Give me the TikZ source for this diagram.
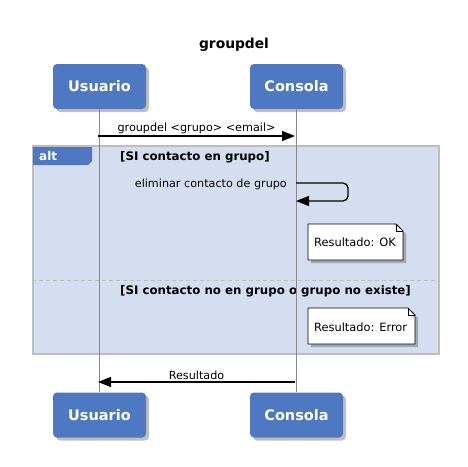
\documentclass[tikz,border=0pt]{standalone}
\usepackage{fontspec}
\setmainfont{DejaVu Sans}
\usetikzlibrary{shadows,arrows.meta,calc}
\definecolor{actorblue}{HTML}{4F78C2}
\definecolor{framefill}{HTML}{D5DEF0}
\definecolor{framedraw}{HTML}{BDBDBD}
\definecolor{lifegray}{HTML}{8A8A8A}
\begin{document}
\begin{tikzpicture}[x=1pt,y=-1pt,
  actor/.style={fill=actorblue, rounded corners=4pt, minimum width=93pt, minimum height=45pt,
    inner sep=0pt, text=white, font=\bfseries\fontsize{14.5}{18}\selectfont,
    drop shadow={shadow xshift=3pt, shadow yshift=-3pt, opacity=0.25, fill=black}},
  lifeline/.style={draw=lifegray, line width=1.8pt},
  msg/.style={line width=1.3pt, -{Triangle[length=13pt,width=10pt]}},
  lbl/.style={font=\fontsize{11.2}{13}\selectfont, inner sep=1pt},
  guard/.style={font=\bfseries\fontsize{11.8}{13}\selectfont, anchor=west, inner sep=0pt},
  notetext/.style={font=\fontsize{11.4}{13}\selectfont, anchor=west, inner sep=0pt},
  notebox/.style={draw=black, fill=white, line width=0.8pt,
    drop shadow={shadow xshift=3pt, shadow yshift=-3pt, opacity=0.25, fill=black}},
]
\useasboundingbox (0,0) rectangle (468,466);
% title
\node[font=\bfseries\fontsize{13.8}{16}\selectfont] (title) at (234,45) {groupdel};
% actors
\node[actor] (u1) at (99.5,86.5) {Usuario};
\node[actor] (c1) at (296.5,86.5) {Consola};
\node[actor] (u2) at (99.5,415) {Usuario};
\node[actor] (c2) at (296.5,415) {Consola};
% alt frame
\node[draw=framedraw, fill=framefill, line width=1.8pt, minimum width=406pt, minimum height=208pt, inner sep=0pt] (alt) at (236,250) {};
\fill[actorblue] (33,147) -- (92,147) -- (92,161) -- (88,165) -- (33,165) -- cycle;
\node[text=white, font=\bfseries\fontsize{12}{14}\selectfont, anchor=west, inner sep=0pt] (altlbl) at (39,156) {alt};
\draw[framedraw, line width=1pt, dash pattern=on 4pt off 3pt] ($(alt.west)+(0,30)$) coordinate (sepl) -- (sepl -| alt.east) coordinate (sepr);
\node[guard] (g1) at (120,157) {[SI contacto en grupo]};
\node[guard] (g2) at (120,291) {[SI contacto no en grupo o grupo no existe]};
% lifelines
\draw[lifeline] (u1.south) -- (u2.north);
\draw[lifeline] (c1.south) -- (c2.north);
% message 1
\coordinate (m1a) at (98,136);
\coordinate (m1b) at (295,136);
\draw[msg] (m1a) -- node[lbl, above=1pt] (m1l) {groupdel <grupo> <email>} (m1b);
% self message
\coordinate (s1a) at (296,183);
\coordinate (s1b) at (296,201);
\draw[msg, rounded corners=5pt] (s1a) -- (348,183) -- (348,201) -- (s1b);
\node[lbl, anchor=east] (s1l) at (288,184) {eliminar contacto de grupo};
% notes
\path[notebox] (308,224) -- (396,224) -- (403,231) -- (403,260) -- (308,260) -- cycle;
\draw[line width=0.8pt] (396,224) -- (396,231) -- (403,231);
\node[notetext] (n1) at (314,242) {Resultado: OK};
\path[notebox] (308,308) -- (408,308) -- (415,315) -- (415,344) -- (308,344) -- cycle;
\draw[line width=0.8pt] (408,308) -- (408,315) -- (415,315);
\node[notetext] (n2) at (314,327) {Resultado: Error};
% return message
\coordinate (m2a) at (295,382);
\coordinate (m2b) at (98,382);
\draw[msg] (m2a) -- node[lbl, above=1pt] (m2l) {Resultado} (m2b);
\end{tikzpicture}
\end{document}
